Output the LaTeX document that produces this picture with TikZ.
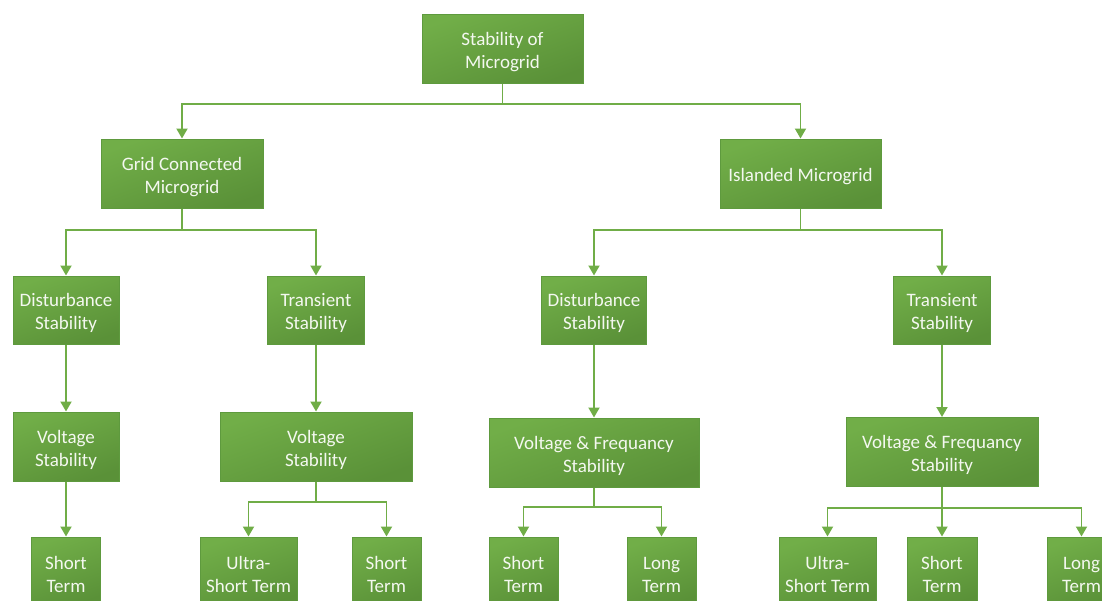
\documentclass[tikz,border=0pt]{standalone}
\usepackage{fontspec}
\setmainfont{Carlito}
\usetikzlibrary{arrows.meta}
\definecolor{gtop}{HTML}{71AE48}
\definecolor{gbot}{HTML}{5A9138}
\definecolor{gedge}{HTML}{5E9A3E}
\definecolor{gline}{HTML}{70AD47}
\definecolor{gtext}{HTML}{F4F8F0}
\newcommand\tstr{\rule{0pt}{19.5pt}}
\tikzset{
  box/.style={rectangle, draw=gedge, line width=1pt, top color=gtop, bottom color=gbot,
    shading angle=20, inner sep=0pt, minimum height=69pt, align=center,
    text=gtext, font=\fontsize{19}{23}\selectfont},
  conn/.style={draw=gline, line width=1.9pt,
    -{Triangle[width=11pt,length=10pt]}}
}
\begin{document}
\begin{tikzpicture}[x=1pt,y=-1pt]
\useasboundingbox (0,0) rectangle (1102,600);
\clip (0,0) rectangle (1102,600);
% level 0
\node[box, minimum width=161pt] (top) at (502.5,48.5) {\tstr Stability of\\Microgrid};
% level 1
\node[box, minimum width=162pt] (gc) at (182,173.5) {\tstr Grid Connected\\Microgrid};
\node[box, minimum width=161pt] (isl) at (800.5,173.5) {\tstr Islanded Microgrid};
% level 2
\node[box, minimum width=106pt, minimum height=68pt] (d1) at (66,310) {\tstr Disturbance\\Stability};
\node[box, minimum width=97pt, minimum height=68pt] (t1) at (316,310) {\tstr Transient\\Stability};
\node[box, minimum width=105pt, minimum height=68pt] (d2) at (594,310) {\tstr Disturbance\\Stability};
\node[box, minimum width=97pt, minimum height=68pt] (t2) at (942,310) {\tstr Transient\\Stability};
% level 3
\node[box, minimum width=106pt] (v1) at (66,446.5) {\tstr Voltage\\Stability};
\node[box, minimum width=192pt] (v2) at (316,446.5) {\tstr Voltage\\Stability};
\node[box, minimum width=210pt] (vf1) at (594,452.5) {\tstr Voltage \& Frequancy\\Stability};
\node[box, minimum width=192pt] (vf2) at (942,452) {\tstr Voltage \& Frequancy\\Stability};
% level 4
\node[box, minimum width=69pt] (s1) at (66,571.5) {\tstr Short\\Term};
\node[box, minimum width=97pt] (u1) at (248.5,571.5) {\tstr Ultra-\\Short Term};
\node[box, minimum width=69pt] (s2) at (386.5,571.5) {\tstr Short\\Term};
\node[box, minimum width=69pt] (s3) at (523.5,571.5) {\tstr Short\\Term};
\node[box, minimum width=69pt] (l1) at (661.5,571.5) {\tstr Long\\Term};
\node[box, minimum width=97pt] (u2) at (827.5,571.5) {\tstr Ultra-\\Short Term};
\node[box, minimum width=70pt] (s4) at (942,571.5) {\tstr Short\\Term};
\node[box, minimum width=69pt] (l2) at (1081.5,571.5) {\tstr Long\\Term};
% bus coordinates
\coordinate (b0) at (502.5,104);
\coordinate (b1) at (182,230);
\coordinate (b2) at (800.5,230);
\coordinate (b3) at (316,502);
\coordinate (b4) at (594,507);
\coordinate (b5) at (942,508);
% connectors
\draw[conn] (top.south) -- (b0) -| (gc.north);
\draw[conn] (top.south) -- (b0) -| (isl.north);
\draw[conn] (gc.south) -- (b1) -| (d1.north);
\draw[conn] (gc.south) -- (b1) -| (t1.north);
\draw[conn] (isl.south) -- (b2) -| (d2.north);
\draw[conn] (isl.south) -- (b2) -| (t2.north);
\draw[conn] (d1.south) -- (v1.north);
\draw[conn] (t1.south) -- (v2.north);
\draw[conn] (d2.south) -- (vf1.north);
\draw[conn] (t2.south) -- (vf2.north);
\draw[conn] (v1.south) -- (s1.north);
\draw[conn] (v2.south) -- (b3) -| (u1.north);
\draw[conn] (v2.south) -- (b3) -| (s2.north);
\draw[conn] (vf1.south) -- (b4) -| (s3.north);
\draw[conn] (vf1.south) -- (b4) -| (l1.north);
\draw[conn] (vf2.south) -- (b5) -| (u2.north);
\draw[conn] (vf2.south) -- (s4.north);
\draw[conn] (vf2.south) -- (b5) -| (l2.north);
\end{tikzpicture}
\end{document}
